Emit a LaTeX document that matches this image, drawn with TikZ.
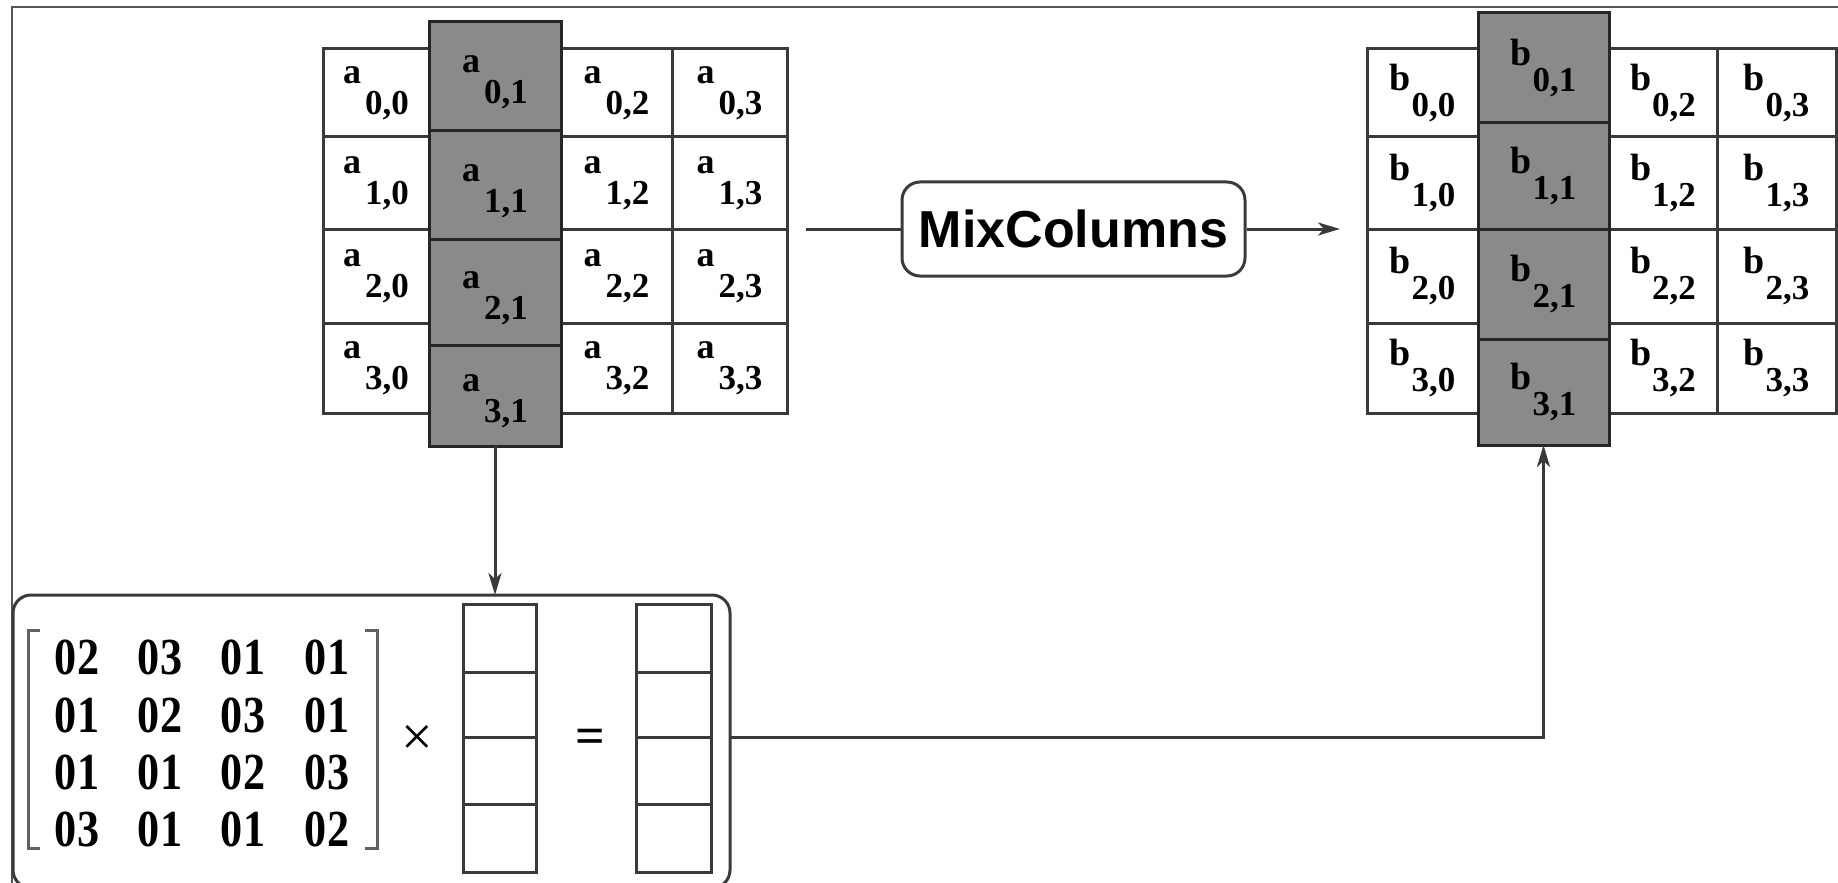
\documentclass[tikz,border=0pt]{standalone}
\usepackage{fontspec}
\setmainfont{Liberation Serif}
\newfontfamily\boxfont{Liberation Sans}
\newfontfamily\matfont[FakeStretch=0.85]{Liberation Serif}
\usetikzlibrary{fit,arrows.meta}

\definecolor{ink}{HTML}{3A3A3A}
\definecolor{shade}{HTML}{8A8A8A}
\definecolor{framegray}{HTML}{555555}

% state entry: letter with a lowered index pair
\newcommand\ent[4]{#1\kern#4\raisebox{-#3}{\fontsize{17.5}{17.5}\selectfont #2}}

\tikzset{
  cellbox/.style={draw=ink, line width=1.5pt, inner sep=0pt, outer sep=0pt},
  hicell/.style={cellbox, fill=shade, draw=black!85},
  alab/.style={font=\fontsize{18}{18}\selectfont\bfseries, inner sep=0pt},
  blab/.style={font=\fontsize{19}{19}\selectfont\bfseries, inner sep=0pt},
  mat/.style={font=\matfont\fontsize{26}{26}\selectfont\bfseries, inner sep=0pt},
  mixbox/.style={draw=ink, line width=1.5pt, rounded corners=9pt,
    minimum width=171.5pt, minimum height=47pt, inner sep=0pt,
    font=\boxfont\fontsize{26}{26}\selectfont\bfseries},
  conn/.style={draw=ink, line width=1.5pt},
  arr/.style={conn, -{Stealth[length=11pt,width=6.5pt,inset=3pt]}},
  brk/.style={draw=ink!80, line width=1.5pt},
}

\begin{document}
\begin{tikzpicture}[x=0.5pt, y=-0.5pt]
\useasboundingbox (0,0) rectangle (1838,883);
\clip (0,0) rectangle (1838,883);

% outer frame (runs off the right and bottom edges)
\draw[framegray, line width=1pt] (12,900) -- (12,7) -- (1850,7);

% ---- input state a ----
\foreach \c/\xa/\xb in {0/323/429, 2/561/672, 3/672/787}
  \foreach \r/\ya/\yb in {0/49/137, 1/137/229, 2/229/323, 3/323/413} {
    \node[cellbox, fit={(\xa,\ya) (\xb,\yb)}] (a\r\c) {};
    \node[alab] (ta\r\c) at (a\r\c) {\ent{a}{\r,\c}{15.5pt}{2pt}};
  }
\foreach \r/\ya/\yb in {0/22/131, 1/131/239, 2/239/345, 3/345/446} {
  \node[hicell, fit={(429,\ya) (561,\yb)}] (a\r1) {};
  \node[alab, yshift=-3pt] (ta\r1) at (a\r1) {\ent{a}{\r,1}{15.5pt}{2pt}};
}

% ---- output state b ----
\foreach \c/\xa/\xb in {0/1367/1478, 2/1609/1717, 3/1717/1836}
  \foreach \r/\ya/\yb in {0/49/137, 1/137/229, 2/229/323, 3/323/413} {
    \node[cellbox, fit={(\xa,\ya) (\xb,\yb)}] (b\r\c) {};
    \node[blab] (tb\r\c) at (b\r\c) {\ent{b}{\r,\c}{13pt}{0.5pt}};
  }
\foreach \r/\ya/\yb in {0/13/123, 1/123/229, 2/229/339, 3/339/445} {
  \node[hicell, fit={(1478,\ya) (1609,\yb)}] (b\r1) {};
  \node[blab] (tb\r1) at (b\r1) {\ent{b}{\r,1}{13pt}{0.5pt}};
}

% ---- MixColumns step ----
\node[mixbox] (mix) at (1073.5,229) {MixColumns};
\coordinate (mixin) at (806,229);
\coordinate (mixout) at (1340,229);
\draw[conn] (mixin) -- (mix.west);
\draw[arr] (mix.east) -- (mixout);

% ---- column multiplication ----
\node[cellbox, rounded corners=9pt, fit={(13,595) (730,888)}] (mbox) {};

\draw[brk] (40,630) -| (28,848) -- (40,848);
\draw[brk] (365,630) -| (377,848) -- (365,848);
\foreach \r/\y/\ea/\eb/\ec/\ed in {1/657/02/03/01/01, 2/715/01/02/03/01,
                                   3/772/01/01/02/03, 4/829/03/01/01/02} {
  \node[mat] (m\r1) at (77,\y) {\ea};
  \node[mat] (m\r2) at (160,\y) {\eb};
  \node[mat] (m\r3) at (243,\y) {\ec};
  \node[mat] (m\r4) at (327,\y) {\ed};
}
\node[inner sep=0pt, font=\fontsize{28}{28}\selectfont] (times) at (417,740) {×};
\node[inner sep=0pt, font=\fontsize{26}{26}\selectfont\bfseries] (eq) at (590,741) {=};

\foreach \i/\ya/\yb in {0/604/672, 1/672/737, 2/737/804, 3/804/872} {
  \node[cellbox, fit={(463,\ya) (536,\yb)}] (u\i) {};
  \node[cellbox, fit={(636,\ya) (711,\yb)}] (w\i) {};
}

% ---- connectors ----
\draw[arr] (a31.south) -- (a31.south |- mbox.north);
\draw[arr] (mbox.east |- w2.north) -| (b31.south);
\end{tikzpicture}
\end{document}
